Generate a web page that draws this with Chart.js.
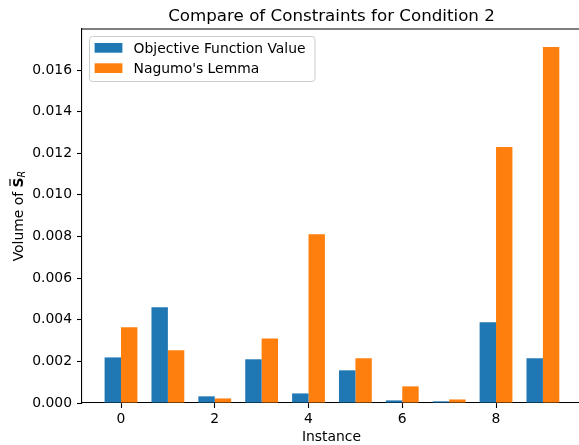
<!DOCTYPE html>
<html>
<head>
<meta charset="utf-8">
<script src="https://cdn.jsdelivr.net/npm/chart.js@4"></script>
<style>
  html, body { margin: 0; padding: 0; background: #fff; }
  #wrap { width: 579px; height: 445px; }
</style>
</head>
<body>
<div id="wrap"><canvas id="chart" width="579" height="445"></canvas></div>
<script>
// data
const instances = [0, 1, 2, 3, 4, 5, 6, 7, 8, 9];
const objectiveValue = [0.00219, 0.0046, 0.00032, 0.0021, 0.00046, 0.00157, 0.000125, 0.00008, 0.00388, 0.00215];
const nagumoValue = [0.00364, 0.00253, 0.00022, 0.0031, 0.00811, 0.00215, 0.0008, 0.00017, 0.0123, 0.0171];
const xTicks = [0, 2, 4, 6, 8];
const yTicks = [0, 0.002, 0.004, 0.006, 0.008, 0.010, 0.012, 0.014, 0.016];

const FONT = "'DejaVu Sans', sans-serif";

const toPoints = (vals) => instances.map((x, i) => ({ x: x, y: vals[i] }));

// title, axis labels, legend and top spine, matplotlib style
const extras = {
    id: 'extras',
    afterDraw(chart) {
        const ctx = chart.ctx;
        const a = chart.chartArea;
        const midX = 331.5;
        ctx.save();

        // top spine
        ctx.strokeStyle = '#000';
        ctx.lineWidth = 1.1;
        ctx.beginPath();
        ctx.moveTo(a.left, a.top);
        ctx.lineTo(a.right, a.top);
        ctx.stroke();

        ctx.fillStyle = '#000';
        ctx.textAlign = 'center';
        ctx.textBaseline = 'alphabetic';
        ctx.font = '16.7px ' + FONT;
        ctx.fillText('Compare of Constraints for Condition 2', midX, 21);

        ctx.font = '13.9px ' + FONT;
        ctx.fillText('Instance', midX, 440.5);

        // y label: Volume of S-bar_R
        const midY = (a.top + a.bottom) / 2;
        ctx.translate(23, midY);
        ctx.rotate(-Math.PI / 2);
        ctx.textAlign = 'left';
        const t1 = 'Volume of ';
        ctx.font = '13.9px ' + FONT;
        const w1 = ctx.measureText(t1).width;
        ctx.font = 'bold 13.9px ' + FONT;
        const wS = ctx.measureText('S').width;
        ctx.font = 'italic 9.7px ' + FONT;
        const wR = ctx.measureText('R').width;
        let x = -(w1 + wS + wR) / 2;
        ctx.font = '13.9px ' + FONT;
        ctx.fillText(t1, x, 0);
        x += w1;
        ctx.font = 'bold 13.9px ' + FONT;
        ctx.fillText('S', x, 0);
        ctx.fillRect(x + 1.5, -13.6, wS - 3, 1.2);
        x += wS;
        ctx.font = 'italic 9.7px ' + FONT;
        ctx.fillText('R', x, 2.4);
        ctx.setTransform(1, 0, 0, 1, 0, 0);

        // legend
        const lx = 89, ly = 36, lw = 225.5, lh = 45;
        ctx.fillStyle = 'rgba(255,255,255,0.8)';
        ctx.strokeStyle = '#cccccc';
        ctx.lineWidth = 1;
        ctx.beginPath();
        ctx.roundRect(lx + 0.5, ly + 0.5, lw, lh, 3);
        ctx.fill();
        ctx.stroke();
        ctx.font = '13.9px ' + FONT;
        ctx.textAlign = 'left';
        ctx.textBaseline = 'alphabetic';
        chart.data.datasets.forEach((ds, i) => {
            const py = 43 + i * 20.3;
            ctx.fillStyle = ds.backgroundColor;
            ctx.fillRect(94.6, py, 27.8, 9.7);
            ctx.fillStyle = '#000';
            ctx.fillText(ds.label, 133.6, py + 10);
        });
        ctx.restore();
    }
};

new Chart(document.getElementById('chart'), {
    type: 'bar',
    data: {
        datasets: [{
            label: 'Objective Function Value',
            data: toPoints(objectiveValue),
            backgroundColor: '#1f77b4',
            borderWidth: 0,
            categoryPercentage: 0.7,
            barPercentage: 1.0,
        }, {
            label: "Nagumo's Lemma",
            data: toPoints(nagumoValue),
            backgroundColor: '#ff7f0e',
            borderWidth: 0,
            categoryPercentage: 0.7,
            barPercentage: 1.0,
        }]
    },
    options: {
        responsive: false,
        animation: false,
        layout: { padding: { top: 29, left: 0, right: 0, bottom: 0 } },
        plugins: {
            legend: { display: false },
            tooltip: { enabled: false },
        },
        scales: {
            x: {
                type: 'linear',
                offset: false,
                min: -0.832,
                max: 9.77,
                grid: { display: true, drawOnChartArea: false, offset: false, tickLength: 5, tickWidth: 1.1, tickColor: '#000' },
                border: { display: true, color: '#000', width: 1.1 },
                afterBuildTicks: (s) => { s.ticks = xTicks.map(v => ({ value: v })); },
                afterFit: (s) => { s.height = 42; },
                ticks: {
                    color: '#000',
                    padding: 3,
                    maxRotation: 0,
                    font: { family: FONT, size: 13.9 },
                    callback: (v) => String(v),
                }
            },
            y: {
                min: 0,
                max: 0.01797,
                grid: { display: true, drawOnChartArea: false, tickLength: 5, tickWidth: 1.1, tickColor: '#000' },
                border: { display: true, color: '#000', width: 1.1 },
                afterBuildTicks: (s) => { s.ticks = yTicks.map(v => ({ value: v })); },
                afterFit: (s) => { s.width = 82; },
                ticks: {
                    color: '#000',
                    padding: 5,
                    font: { family: FONT, size: 13.9 },
                    callback: (v) => v.toFixed(3),
                }
            }
        }
    },
    plugins: [extras]
});
</script>
</body>
</html>
